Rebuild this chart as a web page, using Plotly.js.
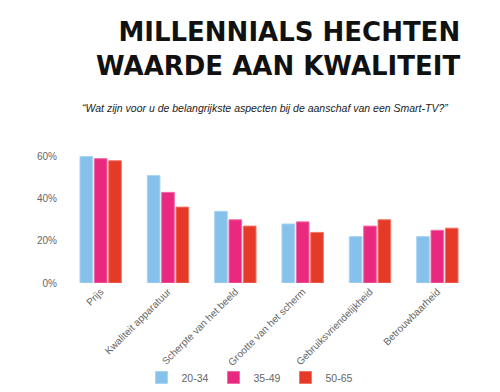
<!DOCTYPE html>
<html><head><meta charset="utf-8">
<script src="https://cdn.plot.ly/plotly-3.0.1.min.js"></script>
<style>body{margin:0;background:#fff}#c{width:500px;height:392px}</style>
</head><body><div id="c"></div>
<script>
const categories = ["Prijs","Kwaliteit apparatuur","Scherpte van het beeld","Grootte van het scherm","Gebruiksvriendelijkheid","Betrouwbaarheid"];
const seriesNames = ["20-34","35-49","50-65"];
const v2034 = [60,51,34,28,22,22];
const v3549 = [59,43,30,29,27,25];
const v5065 = [58,36,27,24,30,26];
const tickVals = [0,20,40,60];
const tickText = ["0%","20%","40%","60%"];
const colors = ["#85C1EA","#E8297F","#E53A28"];
const lines = ["#A9D4F2","#F06AA4","#F07464"];
const vals = [v2034,v3549,v5065];
const data = vals.map((v,i)=>({type:'bar',name:seriesNames[i],x:categories,y:v,
  marker:{color:colors[i],line:{color:lines[i],width:1}},hoverinfo:'none'}));
const L=67, R=29, T=146, B=109, W=500, H=392;
const pw=W-L-R, ph=H-T-B;
const px=(x)=>(x-L)/pw, py=(y)=>(H-B-y)/ph;
const titleLines = ["MILLENNIALS HECHTEN","WAARDE AAN KWALITEIT"];
const layout = {
  width:W,height:H,
  margin:{l:L,r:R,t:T,b:B},
  paper_bgcolor:'#fff',plot_bgcolor:'#fff',
  barmode:'group',bargap:0.36,bargroupgap:0.12,
  showlegend:true,
  legend:{orientation:'h',xref:'container',x:0.5,xanchor:'center',yref:'container',y:0.0,yanchor:'bottom',
    bgcolor:'rgba(0,0,0,0)',font:{family:'Liberation Sans, Arial',size:10.5,color:'#666'},itemwidth:30,traceorder:'normal'},
  xaxis:{automargin:false,tickangle:-45,showline:false,ticks:'',tickfont:{family:'Liberation Sans, Arial',size:10,color:'#666'}},
  yaxis:{automargin:false,range:[0,65],tickvals:tickVals,ticktext:tickText,showgrid:false,zeroline:false,showline:false,
    tickfont:{family:'Liberation Sans, Arial',size:10,color:'#666'},ticklabelstandoff:9},
  annotations:[
    {xref:'paper',yref:'paper',x:px(462),y:py(15),xanchor:'right',yanchor:'top',showarrow:false,align:'right',
     text:'<b>'+titleLines[0]+'<br>'+titleLines[1]+'</b>',font:{family:'DejaVu Sans',size:26,color:'#111'}},
    {xref:'paper',yref:'paper',x:px(265),y:py(100),xanchor:'center',yanchor:'top',showarrow:false,
     text:'<i>“Wat zijn voor u de belangrijkste aspecten bij de aanschaf van een Smart-TV?”</i>',
     font:{family:'Liberation Sans, Arial',size:10.5,color:'#222'}}
  ]
};
Plotly.newPlot('c',data,layout,{displayModeBar:false,staticPlot:true});
</script></body></html>
